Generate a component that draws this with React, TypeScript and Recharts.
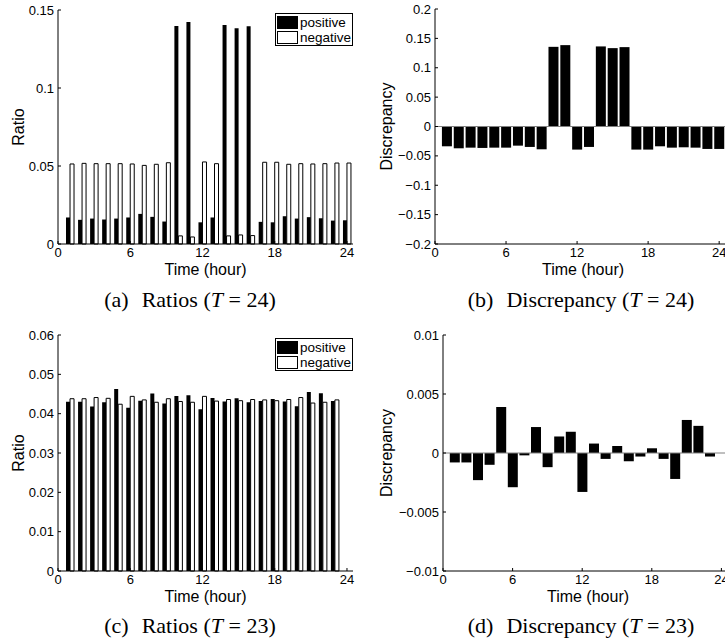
import React from 'react';
import { BarChart, Bar, XAxis, YAxis, ReferenceLine, Legend } from 'recharts';

// hours on the x axis
const hoursT24 = [1, 2, 3, 4, 5, 6, 7, 8, 9, 10, 11, 12, 13, 14, 15, 16, 17, 18, 19, 20, 21, 22, 23, 24];
const hoursT23 = [1, 2, 3, 4, 5, 6, 7, 8, 9, 10, 11, 12, 13, 14, 15, 16, 17, 18, 19, 20, 21, 22, 23];

// (a) ratios, T = 24
const positiveT24 = [0.0170, 0.0155, 0.0163, 0.0157, 0.0163, 0.0170, 0.0193, 0.0174, 0.0144, 0.1398, 0.1423, 0.0139, 0.0170, 0.1404, 0.1383, 0.1396, 0.0142, 0.0139, 0.0178, 0.0163, 0.0172, 0.0165, 0.0150, 0.0152];
const negativeT24 = [0.0513, 0.0517, 0.0515, 0.0515, 0.0515, 0.0513, 0.0504, 0.0511, 0.0521, 0.0052, 0.0045, 0.0526, 0.0515, 0.0052, 0.0058, 0.0054, 0.0524, 0.0524, 0.0511, 0.0515, 0.0513, 0.0515, 0.0519, 0.0519];

// (b) discrepancy, T = 24
const discrepancyT24 = [-0.0337, -0.0371, -0.0360, -0.0365, -0.0360, -0.0360, -0.0326, -0.0348, -0.0388, 0.1356, 0.1385, -0.0393, -0.0348, 0.1363, 0.1334, 0.1351, -0.0393, -0.0393, -0.0337, -0.0360, -0.0354, -0.0360, -0.0382, -0.0382];

// (c) ratios, T = 23
const positiveT23 = [0.0430, 0.0430, 0.0418, 0.0429, 0.0463, 0.0415, 0.0433, 0.0451, 0.0426, 0.0445, 0.0447, 0.0411, 0.0440, 0.0431, 0.0439, 0.0429, 0.0432, 0.0437, 0.0431, 0.0419, 0.0455, 0.0452, 0.0432];
const negativeT23 = [0.0438, 0.0438, 0.0441, 0.0439, 0.0424, 0.0444, 0.0435, 0.0429, 0.0438, 0.0431, 0.0429, 0.0444, 0.0432, 0.0436, 0.0433, 0.0436, 0.0435, 0.0433, 0.0436, 0.0441, 0.0427, 0.0429, 0.0435];

// (d) discrepancy, T = 23
const discrepancyT23 = [-0.0008, -0.0008, -0.0023, -0.0010, 0.0039, -0.0029, -0.0002, 0.0022, -0.0012, 0.0014, 0.0018, -0.0033, 0.0008, -0.0005, 0.0006, -0.0007, -0.0003, 0.0004, -0.0005, -0.0022, 0.0028, 0.0023, -0.0003];

const hourTicks = [0, 6, 12, 18, 24];
const ratioTicksT24 = [0, 0.05, 0.1, 0.15];
const ratioTicksT23 = [0, 0.01, 0.02, 0.03, 0.04, 0.05, 0.06];
const discTicksT24 = [-0.2, -0.15, -0.1, -0.05, 0, 0.05, 0.1, 0.15, 0.2];
const discTicksT23 = [-0.01, -0.005, 0, 0.005, 0.01];
const legendOrder = ['positive', 'negative'];

const SANS = '"Liberation Sans", Arial, Helvetica, sans-serif';
const SERIF = '"Liberation Serif", "Times New Roman", serif';

const fmt = (v: number) => (v < 0 ? '\u2212' + String(-v) : String(v));
const blank = () => '';
const tickStyle = { fill: '#000', fontSize: 13, fontFamily: SANS };
const lineStyle = { stroke: '#000', strokeWidth: 1 };

const YLabel = (props: any) => {
  const { viewBox, caption, bx } = props;
  const cy = viewBox.y + viewBox.height / 2;
  return (
    <text x={bx} y={cy} transform={`rotate(-90, ${bx}, ${cy})`} textAnchor="middle" fontFamily={SANS} fontSize={16} fill="#000">
      {caption}
    </text>
  );
};

const XLabel = (props: any) => {
  const { viewBox, caption } = props;
  return (
    <text x={viewBox.x + viewBox.width / 2} y={viewBox.y + 31} textAnchor="middle" fontFamily={SANS} fontSize={16} fill="#000">
      {caption}
    </text>
  );
};

const RatioLegend = (props: any) => {
  const items = [...(props.payload || [])].sort(
    (p: any, q: any) => legendOrder.indexOf(p.value) - legendOrder.indexOf(q.value)
  );
  return (
    <div
      style={{
        width: 78,
        height: 33,
        boxSizing: 'border-box',
        border: '1px solid #000',
        background: '#fff',
        padding: '1px 0 0 1px',
        fontFamily: SANS,
        fontSize: 13.5,
        lineHeight: '15px',
        color: '#000',
      }}
    >
      {items.map((it: any) => (
        <div key={it.value} style={{ display: 'flex', alignItems: 'center', height: 15 }}>
          <span style={{ width: 21, height: 13, boxSizing: 'border-box', background: it.color, border: '1px solid #000', marginRight: 2 }} />
          <span>{it.value}</span>
        </div>
      ))}
    </div>
  );
};

function RatioPanel({ hours, positive, negative, ticks, top, margin }: any) {
  const data = hours.map((h: number, i: number) => ({ hour: h, positive: positive[i], negative: negative[i] }));
  const yDomain = [ticks[0], ticks[ticks.length - 1]];
  return (
    <div style={{ position: 'absolute', left: 0, top }}>
      <BarChart width={362} height={300} data={data} margin={margin} barGap={0}>
        <XAxis
          dataKey="hour"
          type="number"
          domain={[0, 24.5]}
          ticks={hourTicks}
          interval={0}
          height={31}
          tick={tickStyle}
          tickSize={-3}
          tickMargin={7}
          axisLine={lineStyle}
          tickLine={lineStyle}
          label={<XLabel caption="Time (hour)" />}
        />
        <XAxis xAxisId="top" orientation="top" dataKey="hour" type="number" domain={[0, 24.5]} ticks={hourTicks} interval={0} height={0} tickSize={-3} tickFormatter={blank} axisLine={lineStyle} tickLine={lineStyle} />
        <YAxis
          type="number"
          domain={yDomain}
          ticks={ticks}
          interval={0}
          width={58}
          tick={tickStyle}
          tickFormatter={fmt}
          tickSize={-3}
          tickMargin={7}
          axisLine={lineStyle}
          tickLine={lineStyle}
          label={<YLabel caption="Ratio" bx={23.5} />}
        />
        <YAxis yAxisId="right" orientation="right" type="number" domain={yDomain} ticks={ticks} interval={0} width={0} tickSize={-3} tickFormatter={blank} axisLine={lineStyle} tickLine={lineStyle} />
        <Bar dataKey="positive" name="positive" fill="#000" barSize={4} isAnimationActive={false} />
        <Bar dataKey="negative" name="negative" fill="#fff" stroke="#000" strokeWidth={1} barSize={4} isAnimationActive={false} />
        <Legend
          layout="horizontal"
          verticalAlign="middle"
          align="center"
          width={78}
          height={33}
          wrapperStyle={{ left: 275, top: margin.top + 3 }}
          content={RatioLegend}
        />
      </BarChart>
    </div>
  );
}

function DiscrepancyPanel({ hours, values, ticks, top, margin, width, axisWidth }: any) {
  const data = hours.map((h: number, i: number) => ({ hour: h, discrepancy: values[i] }));
  const yDomain = [ticks[0], ticks[ticks.length - 1]];
  return (
    <div style={{ position: 'absolute', left: 362, top }}>
      <BarChart width={width} height={300} data={data} margin={margin}>
        <XAxis
          dataKey="hour"
          type="number"
          domain={[0, 25]}
          ticks={hourTicks}
          interval={0}
          height={31}
          tick={tickStyle}
          tickSize={-3}
          tickMargin={7}
          axisLine={lineStyle}
          tickLine={lineStyle}
          label={<XLabel caption="Time (hour)" />}
        />
        <XAxis xAxisId="top" orientation="top" dataKey="hour" type="number" domain={[0, 25]} ticks={hourTicks} interval={0} height={0} tickSize={-3} tickFormatter={blank} axisLine={lineStyle} tickLine={lineStyle} />
        <YAxis
          type="number"
          domain={yDomain}
          ticks={ticks}
          interval={0}
          width={axisWidth}
          tick={tickStyle}
          tickFormatter={fmt}
          tickSize={-3}
          tickMargin={7}
          axisLine={lineStyle}
          tickLine={lineStyle}
          label={<YLabel caption="Discrepancy" bx={30} />}
        />
        <ReferenceLine y={0} stroke="#808080" strokeWidth={1} />
        <Bar dataKey="discrepancy" fill="#000" barSize={10} isAnimationActive={false} />
      </BarChart>
    </div>
  );
}

const captions = [
  { tag: '(a)', name: 'Ratios', T: '24', left: 0, width: 380, top: 289 },
  { tag: '(b)', name: 'Discrepancy', T: '24', left: 437, width: 288, top: 289 },
  { tag: '(c)', name: 'Ratios', T: '23', left: 0, width: 380, top: 615 },
  { tag: '(d)', name: 'Discrepancy', T: '23', left: 437, width: 288, top: 615 },
];

export default function App() {
  return (
    <div style={{ position: 'absolute', left: 0, top: 0, width: 725, height: 643, overflow: 'hidden', background: '#fff' }}>
      <RatioPanel hours={hoursT24} positive={positiveT24} negative={negativeT24} ticks={ratioTicksT24} top={0} margin={{ top: 10, right: 9, bottom: 25, left: 0 }} />
      <DiscrepancyPanel hours={hoursT24} values={discrepancyT24} ticks={discTicksT24} top={0} width={369} axisWidth={73} margin={{ top: 9, right: 0, bottom: 25, left: 0 }} />
      <RatioPanel hours={hoursT23} positive={positiveT23} negative={negativeT23} ticks={ratioTicksT23} top={320} margin={{ top: 15, right: 9, bottom: 18, left: 0 }} />
      <DiscrepancyPanel hours={hoursT23} values={discrepancyT23} ticks={discTicksT23} top={320} width={371} axisWidth={81} margin={{ top: 15, right: 0, bottom: 18, left: 0 }} />
      {captions.map((c) => (
        <div
          key={c.tag}
          style={{
            position: 'absolute',
            left: c.left,
            width: c.width,
            top: c.top,
            textAlign: 'center',
            fontFamily: SERIF,
            fontSize: 22,
            lineHeight: '22px',
            whiteSpace: 'pre',
            color: '#000',
          }}
        >
          {c.tag}
          <span style={{ display: 'inline-block', width: 13 }} />
          {c.name} (<i>T</i> = {c.T})
        </div>
      ))}
    </div>
  );
}
